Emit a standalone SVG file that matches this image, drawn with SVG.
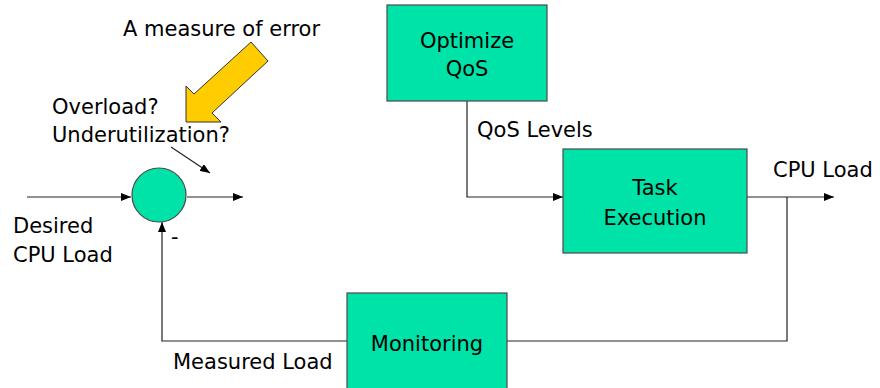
<svg xmlns="http://www.w3.org/2000/svg" width="880" height="388" viewBox="0 0 880 388">
<style>
text{font-family:"DejaVu Sans",Verdana,sans-serif;font-size:21px;fill:#000}
.box{fill:#00E3A8;stroke:#4a4a4a;stroke-width:1.2}
.ln{fill:none;stroke:#222;stroke-width:1.2}
.mid{text-anchor:middle}
</style>
<defs>
<marker id="ah" markerWidth="10" markerHeight="8" refX="10" refY="4" orient="auto" markerUnits="userSpaceOnUse">
<path d="M0,0 L10,4 L0,8 Z" fill="#000"/>
</marker>
</defs>
<rect width="880" height="388" fill="#fff"/>
<g id="connectors">
<line class="ln" x1="27" y1="197" x2="131" y2="197" marker-end="url(#ah)"/>
<line class="ln" x1="187" y1="197" x2="243" y2="197" marker-end="url(#ah)"/>
<line class="ln" x1="171" y1="147" x2="210" y2="173" marker-end="url(#ah)"/>
<polyline class="ln" points="467,101 467,197 563,197" marker-end="url(#ah)"/>
<line class="ln" x1="747" y1="197" x2="834" y2="197" marker-end="url(#ah)"/>
<polyline class="ln" points="787,197 787,341 507,341"/>
<polyline class="ln" points="347,341 162,341 162,222" marker-end="url(#ah)"/>
</g>
<g id="error-arrow">
<polygon points="251,42 268,61 212,113 221,122 186,122 186,86 194,94" fill="#FFCC00" stroke="#333" stroke-width="1"/>
<text x="123" y="36">A measure of error</text>
</g>
<g id="sum">
<circle cx="159" cy="195" r="27" class="box"/>
<text x="171" y="244">-</text>
</g>
<g id="labels">
<text x="52" y="114">Overload?</text>
<text x="52" y="142">Underutilization?</text>
<text x="13" y="233">Desired</text>
<text x="13" y="262">CPU Load</text>
<text x="477" y="137">QoS Levels</text>
<text x="773" y="177">CPU Load</text>
<text x="173" y="369">Measured Load</text>
</g>
<g id="optimize">
<rect x="387" y="5" width="160" height="96" class="box"/>
<text class="mid" x="467" y="48">Optimize</text>
<text class="mid" x="467" y="76">QoS</text>
</g>
<g id="task">
<rect x="563" y="149" width="184" height="104" class="box"/>
<text class="mid" x="655" y="195">Task</text>
<text class="mid" x="655" y="225">Execution</text>
</g>
<g id="monitoring">
<rect x="347" y="293" width="160" height="100" class="box"/>
<text class="mid" x="427" y="351">Monitoring</text>
</g>
</svg>
